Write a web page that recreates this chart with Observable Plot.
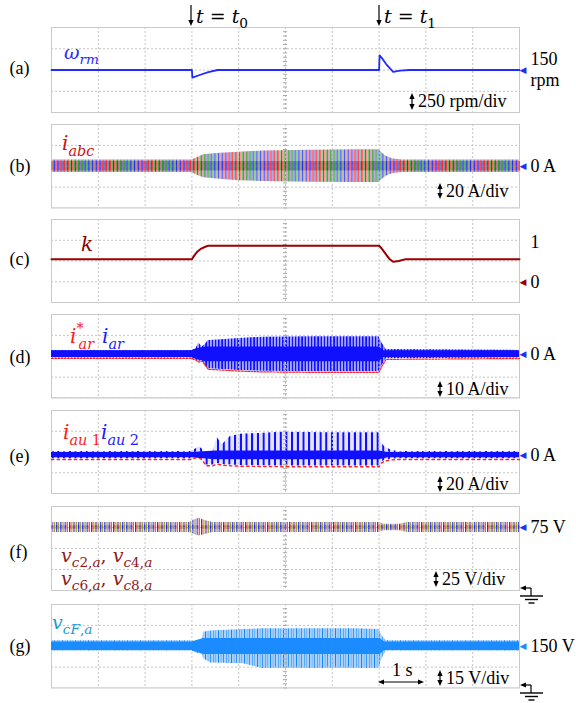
<!DOCTYPE html>
<html><head><meta charset="utf-8">
<script src="https://cdn.jsdelivr.net/npm/d3@7"></script>
<script src="https://cdn.jsdelivr.net/npm/@observablehq/plot@0.6"></script>
<style>
html,body{margin:0;padding:0;background:#fff;}
#wrap{position:relative;width:576px;height:703px;overflow:hidden;background:#fff;}
</style></head><body>
<div id="wrap"></div>
<script>
// ================= DATA =================
const xDivs = [0,1,2,3,4,5,6,7,8,9,10];           // time, s (1 s/div)

// (a) rotor speed omega_rm, rpm (250 rpm/div)
const wT = [0, 3.0, 3.01, 3.15, 3.35, 3.55, 7.0, 7.01, 7.06, 7.15, 7.3, 7.45, 7.65, 10];
const wV = [150, 150, 60, 88, 126, 150, 150, 322, 290, 220, 128, 142, 150, 150];

// (b) phase currents i_abc envelope, A (20 A/div)
const bT  = [0, 3.0, 3.1, 3.25, 3.6, 4.0, 4.5, 5.5, 6.5, 7.0, 7.06, 7.15, 7.3, 7.5, 10];
const bHi = [6, 6, 8, 11, 12.5, 13.5, 14.5, 15.3, 15.7, 15.7, 13, 9.5, 7, 6, 6];
const bLo = [-6, -6, -8.5, -11, -12.5, -13.8, -14.6, -15.3, -15.6, -15.6, -13, -9.5, -7, -6, -6];

// (c) modulation k (0.5 /div)
const kT = [0, 3.0, 3.05, 3.12, 3.2, 3.3, 3.35, 7.0, 7.04, 7.12, 7.22, 7.3, 7.42, 7.55, 10];
const kV = [0.54, 0.54, 0.63, 0.73, 0.8, 0.85, 0.87, 0.87, 0.82, 0.7, 0.55, 0.48, 0.5, 0.54, 0.54];

// (d) i_ar (blue) / i*_ar (red) envelope, A (10 A/div)
const dT  = [0, 3.0, 3.08, 3.15, 3.22, 3.28, 3.35, 3.55, 4.0, 4.5, 5.5, 6.5, 7.0, 7.06, 7.15, 10];
const dHi = [1.8, 1.8, 2.5, 5.2, 3.5, 4.5, 6.5, 6.8, 7.5, 8.1, 8.3, 8.3, 8.3, 5.5, 2.2, 1.8];
const dLo = [-1.8, -1.8, -2.5, -3.5, -3, -5, -7, -7.2, -7.8, -8.2, -8.4, -8.4, -8.4, -5.5, -2.2, -1.8];
const dcT  = [0, 3.0, 3.1, 3.3, 7.0, 7.1, 10];
const dcHi = [1.6, 1.6, 2.6, 3.4, 3.4, 1.6, 1.6];
const dcLo = [-1.6, -1.6, -2.6, -3.6, -3.6, -1.6, -1.6];

// (e) i_au1 (red) / i_au2 (blue) envelope, A (20 A/div)
const eT  = [0, 3.0, 3.08, 3.15, 3.22, 3.3, 3.45, 3.54, 3.65, 3.82, 4.04, 4.9, 6.0, 7.0, 7.05, 7.12, 7.25, 7.4, 10];
const eHi = [3.5, 3.5, 6, 8, 6, 3, 3, 17, 10, 18, 20, 22, 21.5, 21.5, 12, 8, 5, 3.5, 3.5];
const eLo = [-3.5, -3.5, -2, -2, -4, -9.5, -9.6, -8, -9, -9.6, -10, -10.5, -10.5, -10.5, -7, -5, -4, -3.5, -3.5];
const ecT  = [0, 3.0, 3.5, 7.0, 7.2, 10];
const ecHi = [2.6, 2.6, 4, 4, 2.6, 2.6];
const ecLo = [-2.6, -2.6, -4.5, -4.5, -2.6, -2.6];

// (f) capacitor voltages v_c2,a ... v_c8,a envelope, V (25 V/div)
const fT  = [0, 2.95, 3.05, 3.15, 3.3, 3.45, 7.0, 7.1, 7.45, 7.6, 10];
const fHi = [81, 81, 84, 86, 83, 81, 81, 79, 79, 81, 81];
const fLo = [69, 69, 67, 65, 67, 69, 69, 71, 71, 69, 69];

// (g) flying capacitor voltage v_cF,a envelope, V (15 V/div)
const gT  = [0, 3.0, 3.1, 3.22, 3.25, 3.4, 4.1, 4.5, 5.5, 6.5, 7.0, 7.05, 7.15, 10];
const gHi = [154, 154, 153, 153, 160, 161, 162, 162.5, 162.5, 162.5, 162, 158, 154, 154];
const gLo = [146.5, 146.5, 145, 144.5, 141, 138, 137.5, 134, 134, 134, 134, 140, 146.5, 146.5];
const gcT  = [0, 3.0, 3.25, 7.02, 7.12, 10];
const gcHi = [153, 153, 155.5, 155.5, 153, 153];
const gcLo = [147, 147, 144, 144, 147, 147];

// reference levels shown at the right edge
const levA = [{v: 150, top: "150", bot: "rpm"}];
const levB = [{v: 0, label: "0 A"}];
const levC1 = [{v: 1, label: "1"}];
const levC0 = [{v: 0, label: "0"}];
const levD = [{v: 0, label: "0 A"}];
const levE = [{v: 0, label: "0 A"}];
const levF = [{v: 75, label: "75 V"}];
const levG = [{v: 150, label: "150 V"}];

// ================= helpers =================
const line = (T, V) => T.map((t, i) => ({t, v: V[i]}));
const band = (T, L, H) => T.map((t, i) => ({t, lo: L[i], hi: H[i]}));
const wrap = document.getElementById("wrap");
const M = 10;
const SERIF = "Liberation Serif, Times New Roman, serif";
const PX = 10 / 468;   // seconds per screen pixel (texture spacing only)

// stripe textures imitating the dense oscilloscope traces: period (px), [x, width, colour]
const TEX = {
  B: {w: 4.2, s: [[0, 0.75, "#ff1a1a"], [1.4, 0.75, "#119911"], [2.8, 0.75, "#1a1aff"]]},
  D: {w: 3.2, s: [[0, 1.9, "#1010ff"], [1.9, 1.3, "#9c9cff"]]},
  E: {w: 5.7, s: [[0, 2.4, "#1010ff"], [2.4, 3.3, "#e4e4ff"]]},
  F: {w: 4.4, s: [[0, 0.9, "#1a1aff"], [1.25, 0.45, "#dd2222"], [2.3, 1.0, "#8a9a10"]]},
  G: {w: 2.6, s: [[0, 1.1, "#1786f5"], [1.1, 1.5, "#a6d0fb"]]}
};
function stripes(key, opts = {}) {
  const t = TEX[key];
  return t.s.map(([x, w, c]) =>
    Plot.ruleX(d3.range((x + w / 2) * PX, 10, t.w * PX), {stroke: c, strokeWidth: w, ...opts}));
}
// white areas outside an envelope so that only the envelope shows the texture
function masks(env, [lo, hi]) {
  return [
    Plot.areaY(env, {x: "t", y1: "hi", y2: hi, fill: "#fff"}),
    Plot.areaY(env, {x: "t", y1: lo, y2: "lo", fill: "#fff"})
  ];
}

function rightLabels(lev, color, tri = true, dyText = 0) {
  const out = [Plot.text(lev, {x: 10, y: "v", text: "label", dx: 11, dy: dyText, textAnchor: "start",
    fontSize: 18, fontFamily: SERIF, fill: "#000"})];
  if (tri) out.push(Plot.text(lev, {x: 10, y: "v", text: () => "\u25C0", dx: 0, textAnchor: "start",
    fontSize: 9, fontFamily: "DejaVu Sans", fill: color}));
  return out;
}

function panel(box, yDomain, tag, tagDy, under, over) {
  const [top, bottom] = box;
  const h = bottom - top;
  const [lo, hi] = yDomain;
  const yDivs = [1, 2, 3].map(i => lo + i * (hi - lo) / 4);
  const yMinor = d3.range(21).map(i => lo + i * (hi - lo) / 20);
  const svg = Plot.plot({
    width: 576, height: h + 2 * M,
    marginLeft: 51, marginRight: 57, marginTop: M, marginBottom: M,
    x: {domain: [0, 10], axis: null},
    y: {domain: yDomain, axis: null},
    style: {background: "transparent", overflow: "visible"},
    marks: [
      ...under,
      Plot.ruleX(xDivs.slice(1, -1), {stroke: "#c4c4c4", strokeDasharray: "2,2"}),
      Plot.ruleY(yDivs, {stroke: "#c4c4c4", strokeDasharray: "2,2"}),
      Plot.ruleY(yMinor, {x1: 5 - 0.045, x2: 5 + 0.045, stroke: "#a8a8a8"}),
      Plot.frame({stroke: "#cacaca"}),
      Plot.text([tag], {frameAnchor: "left", text: d => d, dx: -42, dy: tagDy, textAnchor: "start",
        fontSize: 18, fontFamily: SERIF, fill: "#000"}),
      ...over
    ]
  });
  svg.style.position = "absolute";
  svg.style.left = "0px";
  svg.style.top = (top - M) + "px";
  svg.style.maxWidth = "none";
  wrap.appendChild(svg);
}

// (a)
panel([27, 112], [-350, 650], "(a)", -1.5, [], [
  Plot.line(line(wT, wV), {x: "t", y: "v", stroke: "#1f2bff", strokeWidth: 1.8}),
  Plot.text(levA, {x: 10, y: "v", text: "top", dx: 11, dy: -10.5, textAnchor: "start", fontSize: 18, fontFamily: SERIF, fill: "#000"}),
  Plot.text(levA, {x: 10, y: "v", text: "bot", dx: 11, dy: 10.5, textAnchor: "start", fontSize: 18, fontFamily: SERIF, fill: "#000"}),
  Plot.text(levA, {x: 10, y: "v", text: () => "\u25C0", textAnchor: "start", fontSize: 9, fontFamily: "DejaVu Sans", fill: "#1f2bff"})
]);
// (b)
const envB = band(bT, bLo, bHi);
panel([123.5, 207], [-40, 40], "(b)", 0, [
  ...stripes("B"), ...masks(envB, [-40, 40])
], [
  ...stripes("B", {y1: -4.5, y2: 4.5}),
  ...rightLabels(levB, "#1f2bff")
]);
// (c)
panel([219, 302], [-0.5, 1.5], "(c)", -2, [], [
  Plot.line(line(kT, kV), {x: "t", y: "v", stroke: "#9a0000", strokeWidth: 2}),
  ...rightLabels(levC1, "#9a0000", false, 2),
  ...rightLabels(levC0, "#9a0000")
]);
// (d)
const envD = band(dT, dLo, dHi);
panel([314, 397.5], [-21, 19], "(d)", 1, [
  ...stripes("D"), ...masks(envD, [-21, 19])
], [
  Plot.line(envD, {x: "t", y: "lo", stroke: "#ff2020", strokeWidth: 1.2, dy: 0.6, strokeDasharray: "1.9,1.3"}),
  Plot.areaY(band(dcT, dcLo, dcHi), {x: "t", y1: "lo", y2: "hi", fill: "#1010ff"}),
  ...rightLabels(levD, "#1f2bff")
]);
// (e)
const envE = band(eT, eLo, eHi);
panel([410, 493], [-37, 43], "(e)", 4.5, [
  ...stripes("E"), ...masks(envE, [-37, 43])
], [
  Plot.line(envE, {x: "t", y: "lo", stroke: "#ff2020", strokeWidth: 1.4, dy: 0.7, strokeDasharray: "2.4,3.3"}),
  Plot.areaY(band(ecT, ecLo, ecHi), {x: "t", y1: "lo", y2: "hi", fill: "#1010ff"}),
  ...rightLabels(levE, "#1f2bff")
]);
// (f)
const envF = band(fT, fLo, fHi);
panel([506, 590], [0, 100], "(f)", 3.5, [
  ...stripes("F"), ...masks(envF, [0, 100])
], [
  ...stripes("F", {y1: 73, y2: 77}),
  ...rightLabels(levF, "#1f2bff")
]);
// (g)
const envG = band(gT, gLo, gHi);
panel([604, 687.5], [120, 180], "(g)", -0.5, [
  ...stripes("G"), ...masks(envG, [120, 180])
], [
  Plot.areaY(band(gcT, gcLo, gcHi), {x: "t", y1: "lo", y2: "hi", fill: "#1a8cff"}),
  ...rightLabels(levG, "#1a8cff")
]);

// ================= annotations overlay =================
const ov = d3.select(wrap).append("svg").attr("width", 576).attr("height", 703)
  .style("position", "absolute").style("left", "0px").style("top", "0px")
  .style("overflow", "visible").style("pointer-events", "none");

// parts: [string, kind (0 base, 1 sub, 2 sup), italic, dx]
function math(x, y, color, parts, size = 19) {
  const t = ov.append("text").attr("x", x).attr("y", y).attr("fill", color)
    .attr("font-family", "DejaVu Serif").attr("font-size", size);
  let cur = 0;
  for (const [s, kind, it, dx] of parts) {
    const fs = kind ? size * 0.72 : size;
    const target = kind === 1 ? size * 0.28 : kind === 2 ? -size * 0.48 : 0;
    const ts = t.append("tspan").attr("dy", target - cur).attr("font-size", fs)
      .attr("font-style", it ? "italic" : "normal").text(s);
    if (dx) ts.attr("dx", dx);
    cur = target;
  }
}
function txt(x, y, s, size = 18) {
  ov.append("text").attr("x", x).attr("y", y).attr("font-family", SERIF)
    .attr("font-size", size).attr("fill", "#000").text(s);
}
function headDown(x, y) { ov.append("polygon").attr("points", `${x-2.6},${y-6} ${x+2.6},${y-6} ${x},${y}`).attr("fill", "#000"); }
function headUp(x, y) { ov.append("polygon").attr("points", `${x-2.6},${y+6} ${x+2.6},${y+6} ${x},${y}`).attr("fill", "#000"); }
function headLeft(x, y) { ov.append("polygon").attr("points", `${x+6},${y-2.6} ${x+6},${y+2.6} ${x},${y}`).attr("fill", "#000"); }
function headRight(x, y) { ov.append("polygon").attr("points", `${x-6},${y-2.6} ${x-6},${y+2.6} ${x},${y}`).attr("fill", "#000"); }
function seg(x1, y1, x2, y2, w = 1.2) {
  ov.append("line").attr("x1", x1).attr("y1", y1).attr("x2", x2).attr("y2", y2)
    .attr("stroke", "#000").attr("stroke-width", w);
}
function dbl(x, y1, y2) { seg(x, y1 + 3, x, y2 - 3); headUp(x, y1); headDown(x, y2); }
function ground(x, y) {
  seg(x + 11, y, x + 4, y, 1.2); headLeft(x, y);
  seg(x + 11, y, x + 11, y + 8, 1.2);
  seg(x, y + 8, x + 23, y + 8, 1.4);
  seg(x + 5, y + 11.5, x + 18, y + 11.5, 1.4);
  seg(x + 8.5, y + 15, x + 14.5, y + 15, 1.4);
}

// time markers
seg(191, 5, 191, 20); headDown(191, 26);
math(196, 23, "#000", [["t", 0, 1], [" = ", 0, 0], ["t", 0, 1], ["0", 1, 0]]);
seg(379, 5, 379, 20); headDown(379, 26);
math(384, 23, "#000", [["t", 0, 1], [" = ", 0, 0], ["t", 0, 1], ["1", 1, 0]]);

// trace names
math(64, 59, "#2a2aff", [["\u03C9", 0, 1], ["rm", 1, 1]]);
math(62, 150, "#cc1111", [["i", 0, 1], ["abc", 1, 1]], 20);
math(81, 251, "#8b0000", [["k", 0, 1]], 20);
math(70, 343, "#ff1a1a", [["i", 0, 1], ["*", 2, 0], ["ar", 1, 1, -5]], 20);
math(102, 343, "#1a1aff", [["i", 0, 1], ["ar", 1, 1]], 20);
math(63, 439, "#ff1a1a", [["i", 0, 1], ["au", 1, 1], [" 1", 1, 0]], 20);
math(101, 439, "#1a1aff", [["i", 0, 1], ["au", 1, 1], [" 2", 1, 0]], 20);
math(61, 562, "#8b1a1a", [["v", 0, 1], ["c", 1, 1], ["2,", 1, 0], ["a", 1, 1], [", ", 0, 0],
  ["v", 0, 1], ["c", 1, 1], ["4,", 1, 0], ["a", 1, 1]]);
math(61, 585, "#8b1a1a", [["v", 0, 1], ["c", 1, 1], ["6,", 1, 0], ["a", 1, 1], [", ", 0, 0],
  ["v", 0, 1], ["c", 1, 1], ["8,", 1, 0], ["a", 1, 1]]);
math(52, 629, "#1a9ad6", [["v", 0, 1], ["cF", 1, 1], [",", 1, 0], ["a", 1, 1]]);

// scale annotations
dbl(412, 93, 110); txt(418, 107, "250 rpm/div");
dbl(440, 183, 199); txt(446, 197, "20 A/div");
dbl(440, 381, 397); txt(446, 395, "10 A/div");
dbl(440, 476, 492); txt(446, 490, "20 A/div");
dbl(436, 571, 587); txt(442, 585, "25 V/div");
dbl(440, 670, 686); txt(446, 684, "15 V/div");
seg(381, 682, 421, 682); headLeft(378, 682); headRight(424, 682);
txt(392, 676, "1 s");

ground(520, 588);
ground(520, 685);
</script>
</body></html>
